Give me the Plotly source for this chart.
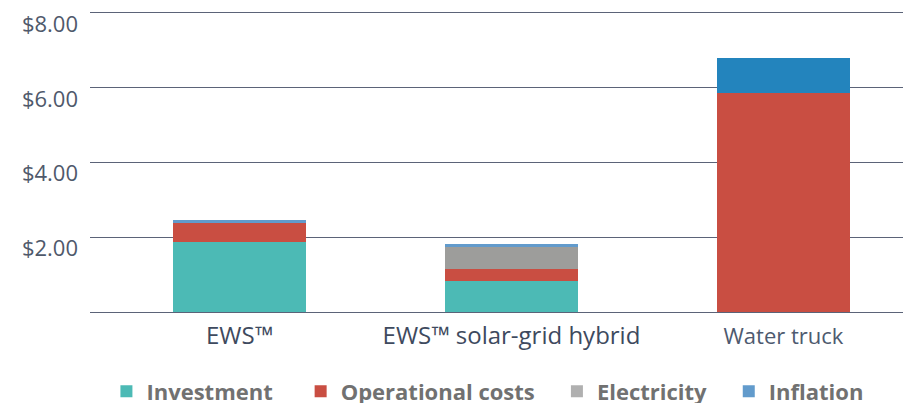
import plotly.graph_objects as go

categories = ["EWS™", "EWS™ solar-grid hybrid", "Water truck"]
investment = [1.88, 0.84, 0.0]
operational = [0.51, 0.32, 5.86]
electricity = [0.0, 0.59, 0.0]
inflation = [0.08, 0.08, 0.94]

tick_vals = [0, 2, 4, 6, 8]
tick_text = ["", "$2.00", "$4.00", "$6.00", "$8.00"]
cat_text = ["EWS™", "EWS™ solar-grid hybrid",
            "<span style='font-size:22px;color:#4e5a6f'>Water truck</span>"]

PAD4 = "\u00a0" * 4
PAD3 = "\u00a0" * 3
bw = 0.49

fig = go.Figure()
fig.add_trace(go.Bar(name="Investment" + PAD4, x=categories, y=investment, width=bw,
                     marker=dict(color="#4cbab5", line=dict(width=0))))
fig.add_trace(go.Bar(name="Operational costs" + PAD3, x=categories, y=operational, width=bw,
                     marker=dict(color="#c94e42", line=dict(width=0))))
fig.add_trace(go.Bar(name="Electricity" + PAD3, x=categories, y=electricity, width=bw,
                     marker=dict(color=["#b0b0b0", "#9d9d9b", "#9d9d9b"], line=dict(width=0))))
fig.add_trace(go.Bar(name="Inflation", x=categories, y=inflation, width=bw,
                     marker=dict(color=["#629bcc", "#629bcc", "#2384bd"], line=dict(width=0))))

fig.update_layout(
    width=903, height=395,
    barmode="stack",
    bargap=0,
    plot_bgcolor="white", paper_bgcolor="white",
    margin=dict(l=82, r=0, t=1, b=91, autoexpand=False),
    font=dict(family="Open Sans", size=20, color="#4a5468"),
    showlegend=True,
    legend=dict(orientation="h", x=0.02, xanchor="left", y=-0.262, yanchor="middle",
                font=dict(family="Open Sans", size=22, color="#717171", weight="bold"),
                itemclick=False, traceorder="normal"),
    xaxis=dict(type="category", range=[-0.5496, 2.469], showgrid=False, showline=False,
               zeroline=False, ticks="", automargin=False, ticklabelstandoff=7,
               tickvals=categories, ticktext=cat_text,
               tickfont=dict(size=24, color="#3e4a5e")),
    yaxis=dict(range=[0, 8.1], tickvals=tick_vals, ticktext=tick_text, showgrid=True,
               gridcolor="#5b6378", gridwidth=1, zeroline=True, zerolinecolor="#5b6378",
               zerolinewidth=1, showline=False, ticks="", ticklabelstandoff=11,
               ticklabelposition="outside bottom", ticklabeloverflow="allow",
               ticklabelshift=-4,
               automargin=False, tickfont=dict(size=22, color="#4f596b")),
)

fig.write_html("out.html")
